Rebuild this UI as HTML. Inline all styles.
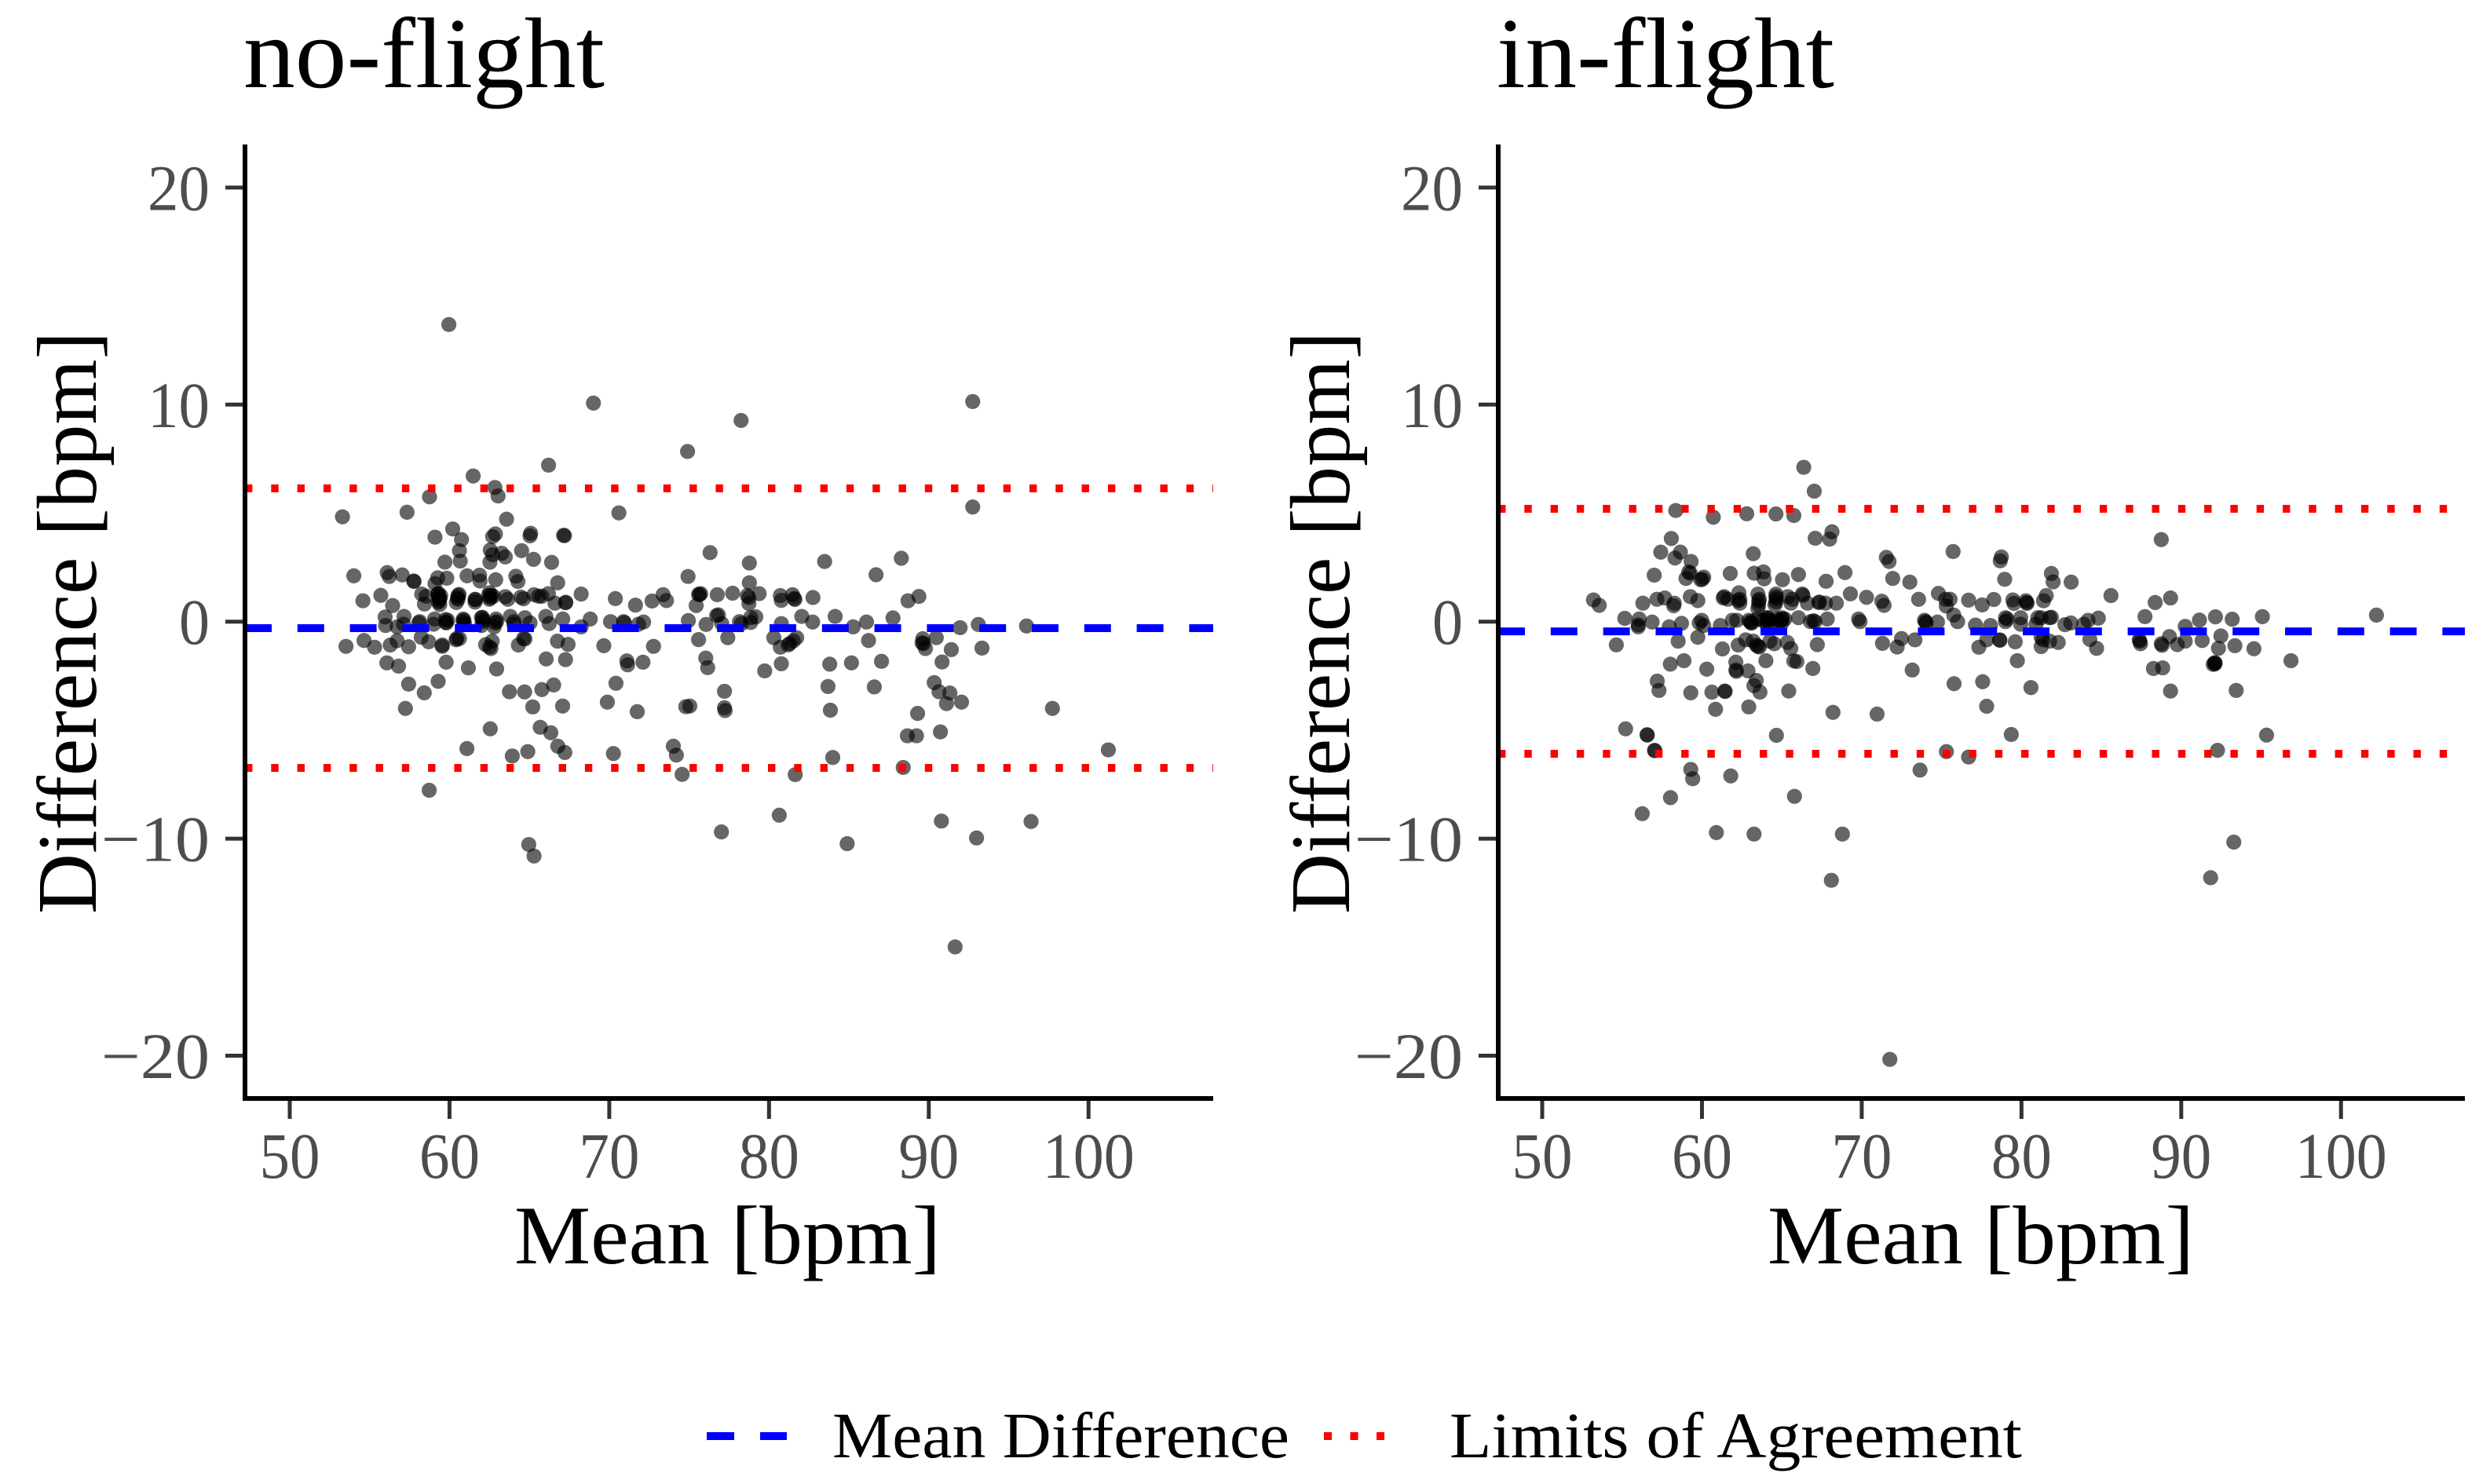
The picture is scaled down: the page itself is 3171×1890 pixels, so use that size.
<!DOCTYPE html>
<html lang="en">
<head>
<meta charset="utf-8">
<title>Bland-Altman plots</title>
<style>
html,body{margin:0;padding:0;background:#fff;width:3171px;height:1890px;overflow:hidden}
svg{display:block}
text{font-family:"Liberation Serif","DejaVu Serif",serif}
</style>
</head>
<body>
<svg id="chart" xmlns="http://www.w3.org/2000/svg" width="3171" height="1890" viewBox="0 0 3171 1890">
<rect x="0" y="0" width="3171" height="1890" fill="#fff"/>
<g id="panel-left"></g>
<g id="panel-right"></g>
<g>
<line x1="900" x2="1002" y1="1829" y2="1829" stroke="#0000ff" stroke-width="10" stroke-dasharray="35 33"/>
<text x="1060" y="1856" font-size="83" fill="#000" textLength="582" lengthAdjust="spacingAndGlyphs">Mean Difference</text>
<line x1="1686" x2="1764" y1="1829" y2="1829" stroke="#ff0000" stroke-width="10" stroke-dasharray="10 23.5"/>
<text x="1846" y="1856" font-size="83" fill="#000" textLength="729" lengthAdjust="spacingAndGlyphs">Limits of Agreement</text>
</g>
</svg>
<script>
const xTicks = [50, 60, 70, 80, 90, 100];
const yTicks = [20, 10, 0, -10, -20];
const panelTitles = ["no-flight", "in-flight"];
const xAxisTitle = "Mean [bpm]";
const yAxisTitle = "Difference [bpm]";
const noFlightMeanDiff = -0.30;
const noFlightLimits = [6.14, -6.74];
const inFlightMeanDiff = -0.45;
const inFlightLimits = [5.2, -6.09];
const noFlightPoints = [
[59.96,13.69],[69.01,10.07],[74.9,7.84],[66.2,7.21],[61.48,6.71],[62.84,6.18],[63.04,5.79],[58.75,5.75],[57.34,5.04],[53.3,4.83],
[70.6,5.01],[63.57,4.72],[60.2,4.27],[59.09,3.89],[60.75,3.78],[62.87,4.04],[62.7,3.92],[65.08,4.07],[65.04,3.95],[67.2,3.96],
[67.14,3.98],[60.62,3.27],[62.55,3.3],[63.27,3.15],[64.51,3.27],[62.7,3.08],[63.49,2.98],[65.26,2.87],[62.53,2.74],
[60.67,2.79],[59.71,2.74],[66.39,2.73],[56.1,2.26],[56.23,2.08],[54.01,2.11],[57.04,2.15],[57.76,1.87],[57.78,1.85],[59.83,2.0],
[59.26,2.02],[59.09,1.75],[61.1,2.11],[61.88,2.14],[61.91,1.87],[62.89,1.93],[64.15,2.09],[64.28,1.85],[66.77,1.79],[74.93,2.08],
[55.7,1.21],[54.58,0.96],[56.44,0.74],[68.24,1.27],[70.38,1.06],[71.64,0.76],[72.68,0.95],[73.37,1.24],[73.58,0.97],[58.26,1.27],
[58.53,1.17],[58.43,0.81],[59.26,1.27],[59.32,1.15],[59.35,0.97],[59.39,0.79],[59.45,1.2],[59.4,1.05],[59.3,0.9],[59.35,1.1],[59.3,1.3],
[60.54,1.21],[60.54,1.03],[60.5,1.1],[60.43,0.88],[60.6,1.25],[61.6,1.03],[61.62,1.01],[61.6,0.9],
[62.5,1.33],[62.59,1.21],[62.5,1.03],[62.75,1.17],[62.55,1.1],[62.45,1.2],[63.65,1.03],[63.49,1.15],[64.63,1.05],[64.47,1.13],
[65.29,1.24],[65.58,1.17],[65.78,1.17],[66.19,1.29],[66.6,0.85],[67.26,0.87],[67.28,0.89],
[55.97,0.21],[56.0,-0.18],[56.72,-0.24],[57.15,0.24],[57.13,-0.12],[58.08,-0.06],[58.13,0],[59.0,-0.12],[59.07,0.12],
[59.8,-0.06],[59.77,-0.03],[59.88,0.06],[59.75,0.1],[60.86,0.12],[60.9,0.06],[60.95,-0.12],[60.85,0],[62.0,0.18],[62.05,0.2],[62.09,0],[62.0,-0.18],[62.1,0.1],
[62.91,0.12],[62.86,-0.06],[62.8,-0.24],[62.95,0],[63.81,0.24],[64.03,0],[64.03,-0.12],[64.72,0.18],[65.04,-0.06],[66.03,0.24],[66.24,-0.09],
[67.09,0.12],[68.24,-0.24],[68.81,0.12],[70.08,0],[70.89,0],[70.95,-0.05],[71.83,-0.12],[72.15,-0.02],[74.95,0.05],
[53.52,-1.14],[54.65,-0.87],[55.31,-1.18],[56.29,-1.08],[56.72,-0.88],[57.44,-1.16],[58.23,-0.72],[58.7,-0.93],[59.55,-1.08],[59.54,-1.14],
[60.46,-0.78],[60.41,-0.84],[60.62,-0.78],[62.26,-1.06],[62.5,-1.17],[62.59,-1.24],[62.67,-0.9],[64.31,-1.08],[64.63,-0.78],[64.72,-0.8],
[66.76,-0.9],[67.42,-1.05],[69.66,-1.11],[72.77,-1.14],
[56.08,-1.9],[56.81,-2.05],[59.79,-1.87],[61.18,-2.13],[62.95,-2.18],[66.05,-1.72],[67.26,-1.75],[71.1,-1.81],[71.15,-1.99],[72.11,-1.87],
[57.44,-2.88],[59.29,-2.75],[58.42,-3.28],[57.24,-4.0],[63.75,-3.23],[64.7,-3.24],[65.78,-3.13],[66.52,-2.92],[65.21,-3.93],[67.08,-3.89],
[70.42,-2.84],[69.88,-3.71],[71.75,-4.15],[74.79,-3.92],[75.04,-3.89],[62.55,-4.94],[61.09,-5.85],[65.68,-4.87],[66.34,-5.12],[66.78,-5.74],
[67.22,-6.03],[64.9,-5.99],[63.93,-6.19],[70.26,-6.08],[74.01,-5.74],[74.2,-6.15],[74.56,-7.04],[58.73,-7.77],[64.96,-10.27],[65.29,-10.8],
[92.75,10.14],[78.25,9.27],[92.75,5.28],[76.31,3.18],[78.77,2.7],[83.48,2.77],[88.28,2.92],[86.7,2.16],[78.77,1.79],
[75.59,1.26],[75.65,1.24],[75.72,1.29],[75.44,0.74],[76.76,1.24],[77.72,1.31],[78.64,1.2],[78.74,1.11],[78.74,0.83],[79.38,1.29],
[80.71,1.2],[80.77,0.98],[81.47,1.24],[81.58,1.07],[81.62,1.02],[82.75,1.11],[89.38,1.16],[88.7,0.96],[82.05,0.24],[82.73,-0.02],
[84.14,0.24],[87.76,0.17],[86.1,-0.02],[85.27,-0.24],[91.96,-0.28],[93.1,-0.13],[96.12,-0.2],[76.83,0.31],[76.72,0.28],[77.04,-0.09],
[76.06,-0.13],[78.15,0],[78.28,-0.09],[78.85,0.19],[79.17,0.22],[78.85,-0.04],[80.77,-0.09],[75.59,-0.83],[77.42,-0.74],[80.3,-0.74],
[80.71,-1.18],[81.73,-0.74],[81.52,-0.89],[81.3,-1.01],[81.2,-1.07],[86.23,-0.87],[90.47,-0.74],[89.62,-0.79],[89.66,-1.01],[89.79,-1.24],
[89.58,-0.98],[91.41,-1.29],[93.33,-1.22],[76.04,-1.68],[76.16,-2.12],[79.73,-2.27],[80.77,-1.94],[83.8,-1.96],[85.16,-1.9],[87.04,-1.83],
[90.83,-1.86],[90.34,-2.81],[90.64,-3.23],[91.32,-3.29],[91.11,-3.78],[92.05,-3.71],[77.21,-3.21],[77.21,-3.97],[77.25,-4.1],[83.69,-2.99],
[86.59,-3.01],[83.84,-4.08],[97.74,-4.0],[89.3,-4.23],[88.66,-5.26],[89.23,-5.26],[90.73,-5.08],[101.24,-5.91],[83.99,-6.26],[88.4,-6.72],
[81.64,-7.05],[80.64,-8.92],[77.02,-9.69],[90.79,-9.19],[96.4,-9.21],[92.99,-9.97],[84.89,-10.23],[91.65,-14.99]
];
const inFlightPoints = [
[66.37,7.11],[67.03,6.01],[58.36,5.12],[60.71,4.81],[62.8,4.97],[64.63,4.96],[65.75,4.89],[68.14,4.14],[67.99,3.8],[67.09,3.84],
[58.08,3.83],[57.42,3.2],[58.65,3.2],[58.31,2.93],[63.21,3.13],[59.32,2.77],[71.54,2.96],[71.71,2.77],[75.72,3.23],[59.17,2.29],
[59.27,2.23],[59.0,1.99],[60.11,2.05],[60.02,1.95],[59.92,1.93],[57.01,2.14],[61.77,2.22],[63.27,2.23],[63.85,2.29],[63.89,1.97],
[65.04,1.93],[66.04,2.17],[67.77,1.86],[68.95,2.26],[71.94,1.99],[73.01,1.82],[69.29,1.28],[70.3,1.12],[71.26,0.94],[71.4,0.75],
[73.56,1.03],[74.8,1.3],[75.25,1.03],[75.53,1.03],[75.29,0.72],[53.21,1.0],[53.57,0.75],[56.3,0.85],[57.18,1.03],[57.67,1.09],
[58.27,0.85],[58.23,0.73],[59.27,1.15],[59.74,0.97],[61.39,1.15],[61.33,1.09],[61.62,1.03],[62.31,1.33],[62.37,1.03],[62.37,0.85],
[62.27,0.97],[63.5,1.27],[63.59,1.03],[63.55,0.78],[63.5,0.6],[63.55,0.95],[64.63,1.27],[64.63,1.15],[64.63,0.91],[64.57,0.78],[64.65,1.05],[65.38,1.15],
[65.66,1.03],[65.57,0.85],[66.28,1.27],[66.32,1.21],[66.6,0.85],[67.31,0.88],[67.35,0.9],[67.73,0.85],[68.41,0.85],
[55.17,0.15],[56.07,0.12],[56.01,-0.15],[56.01,-0.24],[56.88,-0.02],[57.95,-0.24],[58.72,-0.08],[59.83,-0.06],[59.98,0.06],[60.11,-0.18],
[61.15,-0.18],[61.9,0.06],[62.18,0.06],[63.03,0],[63.12,-0.06],[62.93,0.06],[63.07,-0.06],[63.48,0.12],[63.78,0.06],[64.15,0.18],
[64.25,0],[64.06,-0.12],[64.05,0.18],[64.05,0.06],[64.2,0.1],[65,0.18],[64.91,0.06],[65,-0.06],[65.19,0.12],[65.04,0.12],[64.71,0.12],[64.85,0],
[66.04,0.18],[66.79,0],[66.98,0.04],[67.07,0],[67.84,0.12],[69.8,0.12],[69.89,0],[73.93,0.06],[73.99,0],[74.03,-0.06],
[74.74,-0.02],[75.76,0.3],[76.0,0],
[54.64,-1.07],[58.51,-0.9],[59.74,-0.72],[61.28,-1.26],[62.27,-1.08],[62.74,-0.84],[63.21,-0.9],[63.4,-1.08],[63.59,-1.17],[63.5,-1.14],
[64.25,-0.9],[64.53,-1.02],[65.34,-0.96],[65.56,-1.24],[67.22,-1.06],[71.3,-1.0],[72.49,-0.78],[72.22,-1.17],[73.33,-0.84],
[58.02,-1.96],[58.87,-1.8],[60.3,-2.19],[62.12,-1.87],[62.12,-2.23],[62.16,-2.29],[62.88,-2.27],[64.0,-1.8],[65.75,-1.81],[65.94,-1.84],
[66.94,-2.16],[73.16,-2.23],[57.2,-2.74],[57.31,-3.17],[63.4,-2.71],[63.25,-2.95],[63.63,-3.25],[59.3,-3.28],[60.62,-3.25],
[61.43,-3.2],[61.45,-3.22],[65.43,-3.2],[60.85,-4.04],[62.93,-3.93],[68.2,-4.18],[70.96,-4.26],[55.22,-4.94],[56.56,-5.21],[56.58,-5.23],
[64.66,-5.24],[57.03,-5.93],[57.05,-5.95],[75.3,-5.99],[73.65,-6.84],[59.3,-6.81],[59.42,-7.24],[61.8,-7.11],[76.69,-6.24],[58.03,-8.11],
[65.79,-8.05],[56.26,-8.85],[60.9,-9.72],[63.26,-9.79],[68.79,-9.79],[68.1,-11.92],[71.76,-20.17],
[88.75,3.78],[78.74,2.98],[78.67,2.8],[78.95,1.95],[81.87,2.22],[81.98,1.83],[83.11,1.82],[85.6,1.2],[88.37,0.88],[89.33,1.09],
[102.22,0.3],[76.69,0.99],[77.54,0.77],[78.27,1.02],[79.46,1.0],[79.53,0.84],[80.27,0.96],[80.34,0.88],[80.34,0.84],[81.38,0.96],
[81.55,1.2],[77.12,-0.16],[78.06,-0.18],[79.0,0.18],[79.1,0.12],[79.0,0],[79.95,0.18],[79.95,-0.12],[81.02,0.18],[81.23,0.18],
[80.91,-0.12],[81.87,0.2],[81.76,0.18],[82.72,-0.14],[83.09,-0.06],[83.89,-0.12],[84.17,0.06],[84.81,0.16],[87.73,0.23],[90.25,-0.22],
[91.14,0.07],[92.14,0.22],[93.19,0.11],[95.08,0.23],[77.82,-0.84],[77.33,-1.18],[78.63,-0.84],[78.65,-0.86],[79.61,-0.93],[81.23,-0.72],
[81.34,-0.84],[81.23,-1.15],[82.3,-0.96],[81.76,-0.9],[84.28,-0.82],[84.7,-1.23],[87.37,-0.84],[87.45,-1.02],[87.41,-0.9],[89.26,-0.69],
[88.8,-1.09],[88.75,-1.02],[89.75,-1.06],[90.25,-0.9],[91.31,-0.87],[92.48,-0.66],[92.33,-1.23],[93.36,-1.11],[94.55,-1.25],[96.87,-1.8],
[79.74,-1.8],[88.26,-2.16],[88.84,-2.13],[92.1,-1.89],[92.12,-1.91],[92.1,-1.95],[92.0,-1.97],[75.78,-2.86],[77.57,-2.77],[80.59,-3.04],
[89.33,-3.2],[93.44,-3.17],[77.82,-3.9],[79.36,-5.2],[95.34,-5.23],[92.27,-5.93],[93.29,-10.16],[91.84,-11.8]
];

const SVG_NS = "http://www.w3.org/2000/svg";
function make(parent, tag, attrs, txt) {
  const el = document.createElementNS(SVG_NS, tag);
  for (const k in attrs) el.setAttribute(k, attrs[k]);
  if (txt !== undefined) el.textContent = txt;
  parent.appendChild(el);
  return el;
}
function fmtTick(v) { return v < 0 ? "\u2212" + Math.abs(v) : String(v); }

function drawPanel(root, cfg) {
  const xScale = v => cfg.x50 + (v - 50) * 20.345;
  const yScale = v => 791.7 - v * 27.64;
  const left = cfg.left, right = cfg.right;

  for (const p of cfg.points) {
    const c = make(root, "circle", {cx: xScale(p[0]), cy: yScale(p[1]), r: 9.6, fill: "#000", "fill-opacity": 0.6});
    
    
  }

  const meanLine = make(root, "line", {x1: left, x2: right, y1: yScale(cfg.mean), y2: yScale(cfg.mean), stroke: "#0000ff", "stroke-width": 10, "stroke-dasharray": "34 32.8"});
  
  
  for (const lim of cfg.limits) {
    const l = make(root, "line", {x1: left, x2: right, y1: yScale(lim), y2: yScale(lim), stroke: "#ff0000", "stroke-width": 10, "stroke-dasharray": "9.4 23.9"});
    
    
  }

  for (const t of yTicks) {
    const y = yScale(t);
    const tk = make(root, "line", {x1: left - 25, x2: left, y1: y, y2: y, stroke: "#333", "stroke-width": 5});
    
    
    const w = t < 0 ? 138 : (t === 0 ? 39 : 79);
    const lb = make(root, "text", {x: left - 45, y: y + 28.5, "text-anchor": "end", "font-size": 83, fill: "#4d4d4d", textLength: w, lengthAdjust: "spacingAndGlyphs"}, fmtTick(t));
    
    
  }
  for (const t of xTicks) {
    const x = xScale(t);
    const tk = make(root, "line", {x1: x, x2: x, y1: 1399, y2: 1425, stroke: "#333", "stroke-width": 5});
    
    
    const w = t >= 100 ? 117 : 77;
    const lb = make(root, "text", {x: x, y: 1500, "text-anchor": "middle", "font-size": 83, fill: "#4d4d4d", textLength: w, lengthAdjust: "spacingAndGlyphs"}, fmtTick(t));
    
    
  }

  const yAxis = make(root, "line", {x1: left, x2: left, y1: 184, y2: 1402, stroke: "#000", "stroke-width": 6});
  
  
  const xAxis = make(root, "line", {x1: left - 3, x2: right, y1: 1399, y2: 1399, stroke: "#000", "stroke-width": 6});
  
  

  const title = make(root, "text", {x: left - 2, y: 111, "font-size": 128, fill: "#000", textLength: cfg.titleWidth, lengthAdjust: "spacingAndGlyphs"}, cfg.title);
  
  

  const xt = make(root, "text", {x: left + 343, y: 1609, "font-size": 106, fill: "#000", textLength: 543, lengthAdjust: "spacingAndGlyphs"}, xAxisTitle);
  
  

  const yx = left - 190, yy = 1164;
  const yt = make(root, "text", {x: yx, y: yy, transform: "rotate(-90 " + yx + " " + yy + ")", "font-size": 108, fill: "#000", textLength: 742, lengthAdjust: "spacingAndGlyphs"}, yAxisTitle);
  
  
}

drawPanel(document.getElementById("panel-left"), {
  x50: 369, left: 312, right: 1545, title: panelTitles[0], titleWidth: 460,
  points: noFlightPoints, mean: noFlightMeanDiff, limits: noFlightLimits
});
drawPanel(document.getElementById("panel-right"), {
  x50: 1964, left: 1908, right: 3139, title: panelTitles[1], titleWidth: 430,
  points: inFlightPoints, mean: inFlightMeanDiff, limits: inFlightLimits
});
</script>
</body>
</html>
